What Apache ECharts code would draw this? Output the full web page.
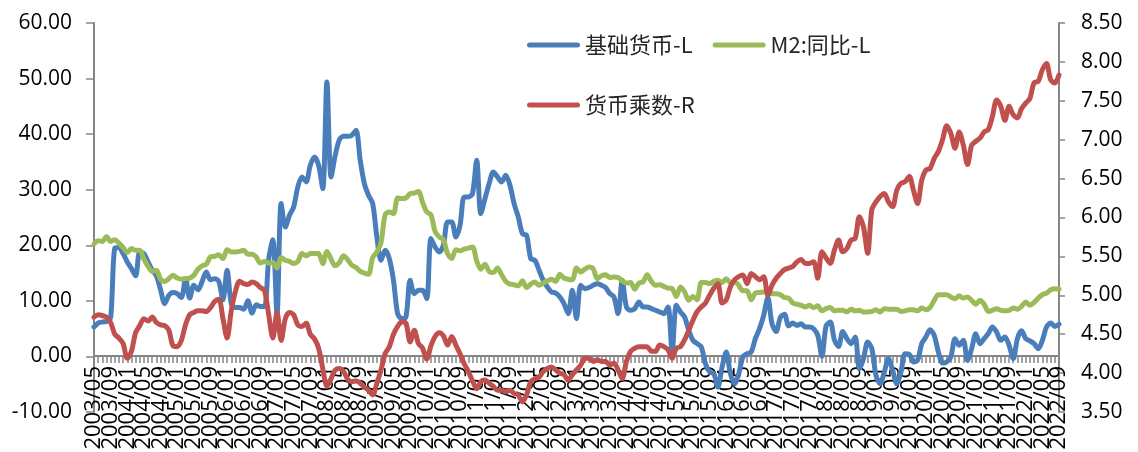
<!DOCTYPE html>
<html>
<head>
<meta charset="utf-8">
<script src="https://cdn.jsdelivr.net/npm/echarts@6/dist/echarts.min.js"></script>
<style>
  html, body { margin: 0; padding: 0; background: #ffffff; }
  #chart { width: 1138px; height: 452px; }
</style>
</head>
<body>
<div id="chart"></div>
<script>
// Monthly categories, 2003/05 through 2022/09
const firstYear = 2003;
const firstMonth = 5;
const monthCount = 233;
const months = [];
for (let k = 0; k < monthCount; k++) {
  const m = firstMonth - 1 + k;
  const y = firstYear + Math.floor(m / 12);
  const mm = (m % 12) + 1;
  months.push(y + '/' + (mm < 10 ? '0' : '') + mm);
}

// 基础货币 同比 (%), left axis
const baseMoney = [
  5.3, 6.0, 6.2, 6.3, 7.0, 19.5, 19.6, 18.5, 17.0, 15.8,
  14.5, 18.8, 18.5, 17.0, 15.5, 14.5, 12.0, 9.5, 11.0, 11.5,
  11.3, 10.6, 14.0, 10.5, 12.8, 12.0, 13.5, 15.2, 13.8, 14.0,
  13.5, 10.2, 15.5, 9.5, 8.8, 8.8, 8.5, 10.0, 7.8, 9.3,
  9.0, 9.0, 17.5, 21.0, 7.5, 27.5, 23.3, 25.4, 26.9, 30.5,
  32.3, 31.4, 34.4, 35.9, 34.4, 30.2, 49.4, 32.3, 36.2, 39.0,
  39.6, 39.6, 39.8, 40.7, 35.3, 31.1, 29.0, 27.5, 21.5, 17.3,
  19.1, 17.6, 13.7, 7.7, 6.8, 7.1, 13.7, 11.3, 11.9, 11.9,
  10.4, 21.2, 19.7, 18.8, 20.0, 24.2, 24.2, 21.5, 23.6, 28.7,
  28.7, 29.3, 35.3, 25.7, 28.4, 31.1, 33.2, 32.3, 31.4, 32.6,
  30.8, 27.5, 25.1, 22.1, 21.8, 17.6, 17.3, 15.5, 13.7, 12.5,
  11.6, 11.4, 10.7, 9.5, 7.7, 11.9, 6.8, 12.8, 12.2, 12.4,
  12.8, 13.1, 12.8, 12.4, 11.3, 10.7, 7.7, 13.7, 8.9, 8.3,
  8.6, 9.8, 8.9, 8.9, 8.6, 8.3, 8.0, 7.7, 8.9, 0.8,
  9.2, 8.0, 7.1, 4.7, 2.9, 2.3, 1.7, -1.3, -2.8, -3.1,
  -5.5, -1.9, 0.8, -3.1, -4.9, -3.1, -0.1, 0.5, 0.8, 3.2,
  5.0, 7.4, 10.6, 5.9, 4.5, 7.0, 7.6, 5.5, 6.0, 5.6,
  5.9, 5.3, 5.3, 5.0, 3.8, 0.0, 5.5, 6.2, 3.0, 1.8,
  4.5, 3.2, 2.3, 3.5, -2.2, -0.4, 2.6, 1.4, -3.4, -4.9,
  -2.8, -0.4, -2.5, -4.9, -2.8, 0.5, 0.4, -1.0, -0.7, 2.3,
  3.5, 4.8, 3.8, 0.8, -1.2, -1.0, -0.1, 3.2, 2.0, 2.9,
  -0.7, 1.4, 4.1, 2.3, 3.2, 4.1, 5.3, 4.4, 2.9, 3.5,
  2.0, -0.4, 3.2, 4.6, 3.2, 2.8, 2.3, 1.4, 2.9, 5.3,
  6.0, 5.4, 5.8
];

// M2 同比 (%), left axis
const m2Yoy = [
  20.2, 20.8, 20.7, 21.6, 20.7, 21.0, 20.4, 19.6, 18.7, 19.4,
  19.1, 19.1, 17.5, 16.2, 15.3, 15.5, 13.9, 13.5, 14.0, 14.6,
  14.1, 13.9, 14.0, 14.1, 14.6, 15.7, 16.3, 16.6, 17.9, 18.0,
  18.3, 17.6, 19.2, 18.8, 18.8, 18.9, 19.1, 18.4, 18.4, 17.9,
  16.8, 17.1, 16.8, 16.9, 15.9, 17.8, 17.3, 17.1, 16.7, 17.1,
  18.5, 18.1, 18.5, 18.5, 18.5, 16.7, 18.9, 17.5, 16.3, 16.9,
  18.1, 17.4, 16.4, 16.0, 15.3, 15.0, 14.8, 17.8, 18.8, 20.5,
  25.5, 26.0, 25.7, 28.5, 28.4, 28.5, 29.3, 29.4, 29.7, 27.7,
  26.0, 25.5, 22.5, 21.5, 21.0, 18.5, 17.6, 19.2, 19.0, 19.3,
  19.5, 19.7, 17.2, 15.7, 16.6, 15.3, 15.1, 15.9, 14.7, 13.5,
  13.0, 12.9, 12.7, 13.6, 12.4, 13.0, 13.4, 12.8, 13.2, 13.6,
  13.9, 13.5, 14.8, 14.1, 13.9, 13.8, 15.9, 15.2, 15.7, 16.1,
  15.8, 14.0, 14.5, 14.7, 14.2, 14.3, 14.2, 13.6, 13.2, 13.3,
  12.1, 13.2, 13.4, 14.7, 13.5, 12.8, 12.9, 12.6, 12.3, 12.2,
  10.8, 12.5, 11.6, 10.1, 10.8, 10.2, 13.3, 13.3, 13.1, 13.5,
  13.7, 13.3, 14.0, 13.3, 13.4, 12.8, 11.8, 11.8, 10.2, 11.4,
  11.5, 11.6, 11.4, 11.3, 11.3, 11.1, 10.6, 10.5, 9.6, 9.4,
  9.2, 8.9, 9.2, 8.8, 9.1, 8.2, 8.6, 8.8, 8.2, 8.3,
  8.3, 8.0, 8.5, 8.2, 8.3, 8.0, 8.0, 8.1, 8.4, 8.0,
  8.6, 8.5, 8.5, 8.5, 8.1, 8.2, 8.4, 8.4, 8.2, 8.7,
  8.4, 8.8, 10.1, 11.1, 11.1, 11.1, 10.7, 10.4, 10.9, 10.5,
  10.7, 10.1, 9.4, 10.1, 9.4, 8.1, 8.3, 8.6, 8.3, 8.2,
  8.3, 8.7, 8.5, 9.0, 9.8, 9.2, 9.7, 10.5, 11.1, 11.4,
  12.0, 12.2, 12.1
];

// 货币乘数, right axis
const multiplier = [
  4.72, 4.75, 4.74, 4.72, 4.65, 4.50, 4.45, 4.38, 4.19, 4.28,
  4.52, 4.61, 4.70, 4.67, 4.72, 4.65, 4.62, 4.61, 4.55, 4.35,
  4.34, 4.42, 4.62, 4.75, 4.78, 4.80, 4.80, 4.79, 4.84, 4.92,
  4.95, 4.70, 4.45, 4.80, 5.05, 5.18, 5.15, 5.14, 5.17, 5.15,
  5.10, 5.06, 4.75, 4.45, 4.78, 4.42, 4.70, 4.78, 4.75, 4.62,
  4.60, 4.64, 4.50, 4.44, 4.32, 4.06, 3.83, 3.93, 4.04, 4.06,
  4.02, 3.92, 3.89, 3.90, 3.87, 3.82, 3.78, 3.72, 3.87, 4.04,
  4.25, 4.34, 4.50, 4.60, 4.66, 4.64, 4.40, 4.55, 4.38, 4.32,
  4.18, 4.35, 4.47, 4.52, 4.48, 4.36, 4.47, 4.36, 4.25, 4.12,
  4.02, 3.90, 3.80, 3.89, 3.91, 3.87, 3.83, 3.78, 3.78, 3.76,
  3.78, 3.74, 3.72, 3.63, 3.72, 3.89, 3.93, 3.95, 4.02, 4.06,
  4.08, 4.04, 4.00, 3.98, 3.91, 3.98, 4.04, 4.10, 4.19, 4.19,
  4.15, 4.17, 4.15, 4.15, 4.10, 4.13, 4.04, 3.93, 4.15, 4.28,
  4.32, 4.34, 4.34, 4.34, 4.28, 4.28, 4.36, 4.34, 4.30, 4.19,
  4.32, 4.34, 4.43, 4.55, 4.68, 4.79, 4.85, 4.90, 5.00, 5.09,
  5.15, 4.90, 4.94, 5.11, 5.20, 5.24, 5.26, 5.15, 5.28, 5.24,
  5.20, 5.24, 5.00, 5.13, 5.22, 5.28, 5.33, 5.35, 5.37, 5.43,
  5.46, 5.41, 5.41, 5.43, 5.22, 5.56, 5.48, 5.41, 5.58, 5.71,
  5.56, 5.60, 5.71, 5.73, 6.01, 5.88, 5.54, 6.10, 6.20, 6.27,
  6.31, 6.20, 6.14, 6.35, 6.44, 6.46, 6.53, 6.35, 6.18, 6.48,
  6.61, 6.63, 6.76, 6.85, 7.00, 7.18, 7.08, 6.89, 7.10, 6.93,
  6.68, 6.93, 6.98, 7.02, 7.10, 7.13, 7.30, 7.51, 7.43, 7.25,
  7.43, 7.32, 7.28, 7.40, 7.47, 7.53, 7.73, 7.75, 7.90, 7.98,
  7.77, 7.73, 7.83
];

const seriesNames = ['基础货币-L', 'M2:同比-L', '货币乘数-R'];
const seriesColors = ['#4A7EBB', '#9BBB59', '#C0504D'];

const axisGrey = '#868686';
const labelFont = 'Open Sans';
const cjkFont = 'Noto Sans CJK SC';
const capsuleIcon = 'path://M2.5,0 L50.5,0 A2.5,2.5 0 0 1 50.5,5 L2.5,5 A2.5,2.5 0 0 1 2.5,0 Z';

// Plot box: the value axes span the full height; the month axis sits on the 0.00 line
const plotLeft = 94, plotRight = 79, plotTop = 23, plotBottom = 40;
const zeroLineY = 356;
// Month labels every 4 months, split over two label rows so neighbours never collide
const labelStep = 4;

const legendBase = {
  orient: 'horizontal',
  left: 527,
  itemWidth: 53,
  itemHeight: 5,
  itemGap: 20,
  icon: capsuleIcon,
  padding: 0,
  textStyle: { fontSize: 22, fontFamily: cjkFont, color: '#262626' }
};

function lineSeries(idx, data, axis) {
  return {
    name: seriesNames[idx],
    type: 'line',
    xAxisIndex: 0,
    yAxisIndex: axis,
    data: data,
    showSymbol: false,
    symbol: 'none',
    smooth: 0.3,
    color: seriesColors[idx],
    lineStyle: { width: 5, color: seriesColors[idx], cap: 'round', join: 'round' },
    emphasis: { disabled: true }
  };
}

function monthLabelAxis(gridIndex, phase, drawLine) {
  return {
    gridIndex: gridIndex,
    type: 'category',
    data: months,
    boundaryGap: false,
    position: 'bottom',
    axisLine: { show: drawLine, onZero: false, lineStyle: { color: axisGrey, width: 2 } },
    axisTick: { show: drawLine, interval: 0, length: 7, lineStyle: { color: axisGrey, width: 1.5 } },
    axisLabel: {
      interval: (i) => i % (labelStep * 2) === phase,
      rotate: 90,
      margin: 10,
      fontSize: 22,
      fontFamily: labelFont,
      color: '#000000',
      hideOverlap: false
    },
    splitLine: { show: false }
  };
}

const sameBox = { left: plotLeft, right: plotRight, top: plotTop, height: zeroLineY - plotTop, containLabel: false, outerBoundsMode: 'none' };

const chart = echarts.init(document.getElementById('chart'), null, { renderer: 'canvas' });
chart.setOption({
  animation: false,
  backgroundColor: '#ffffff',
  grid: [
    { left: plotLeft, right: plotRight, top: plotTop, bottom: plotBottom, containLabel: false, outerBoundsMode: 'none' },
    Object.assign({}, sameBox),
    Object.assign({}, sameBox)
  ],
  legend: [
    Object.assign({}, legendBase, { top: 34, data: [seriesNames[0], seriesNames[1]] }),
    Object.assign({}, legendBase, { top: 94, data: [seriesNames[2]] })
  ],
  xAxis: [
    {
      gridIndex: 0,
      type: 'category',
      data: months,
      boundaryGap: false,
      axisLine: { show: false },
      axisTick: { show: false },
      axisLabel: { show: false },
      splitLine: { show: false }
    },
    monthLabelAxis(1, 0, true),
    monthLabelAxis(2, labelStep, false)
  ],
  yAxis: [
    {
      gridIndex: 0,
      type: 'value',
      min: -10,
      max: 60,
      interval: 10,
      position: 'left',
      axisLine: { show: true, lineStyle: { color: axisGrey, width: 2 } },
      axisTick: { show: true, length: 8, lineStyle: { color: axisGrey, width: 1.5 } },
      axisLabel: {
        margin: 22,
        fontSize: 21,
        fontFamily: labelFont,
        color: '#000000',
        formatter: v => v.toFixed(2)
      },
      splitLine: { show: false }
    },
    {
      gridIndex: 0,
      type: 'value',
      min: 3.5,
      max: 8.5,
      interval: 0.5,
      position: 'right',
      axisLine: { show: true, lineStyle: { color: axisGrey, width: 2 } },
      axisTick: { show: true, length: 6, lineStyle: { color: axisGrey, width: 1.5 } },
      axisLabel: {
        margin: 22,
        fontSize: 21,
        fontFamily: labelFont,
        color: '#000000',
        formatter: v => v.toFixed(2)
      },
      splitLine: { show: false }
    },
    { gridIndex: 1, type: 'value', min: 0, max: 1, show: false },
    { gridIndex: 2, type: 'value', min: 0, max: 1, show: false }
  ],
  series: [
    lineSeries(0, baseMoney, 0),
    lineSeries(1, m2Yoy, 0),
    lineSeries(2, multiplier, 1)
  ]
});
</script>
</body>
</html>
